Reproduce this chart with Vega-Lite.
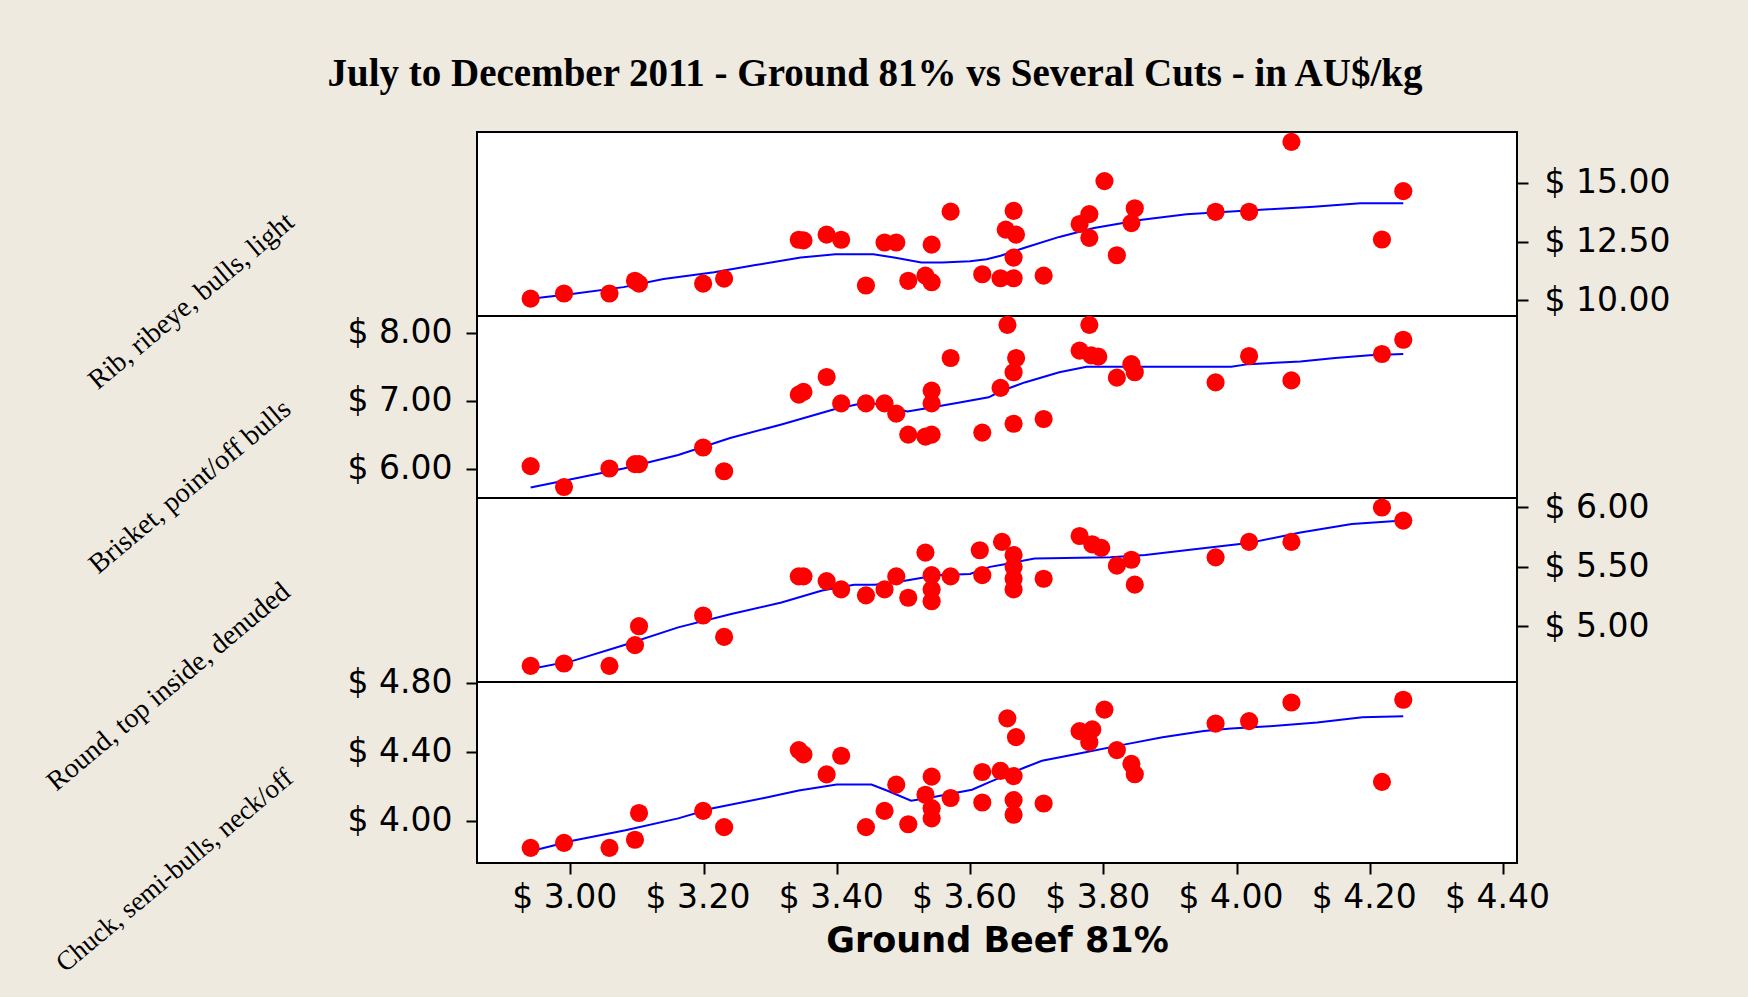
{
  "$schema": "https://vega.github.io/schema/vega-lite/v6.json",
  "background": "#EEEAE0",
  "padding": {"left": 40, "top": 55, "right": 78, "bottom": 39},
  "title": {"text": "July to December 2011 - Ground 81% vs Several Cuts - in AU$/kg", "font": "Liberation Serif", "fontSize": 39, "fontWeight": "bold", "color": "#000000", "anchor": "middle", "frame": "group", "offset": 37, "dx": -122},
  "spacing": 0,
  "bounds": "flush",
  "datasets": {
    "p1": [
      {"x": 2.9405, "y": 10.07}, {"x": 2.9906, "y": 10.29}, {"x": 3.0588, "y": 10.29}, {"x": 3.0971, "y": 10.83}, {"x": 3.1032, "y": 10.71},
      {"x": 3.1994, "y": 10.71}, {"x": 3.2309, "y": 10.92}, {"x": 3.3430, "y": 12.58}, {"x": 3.3500, "y": 12.55}, {"x": 3.3848, "y": 12.80},
      {"x": 3.4066, "y": 12.58}, {"x": 3.4438, "y": 10.63}, {"x": 3.4717, "y": 12.46}, {"x": 3.4893, "y": 12.46}, {"x": 3.5073, "y": 10.83},
      {"x": 3.5331, "y": 11.05}, {"x": 3.5424, "y": 10.77}, {"x": 3.5424, "y": 12.37}, {"x": 3.5709, "y": 13.78}, {"x": 3.6184, "y": 11.11},
      {"x": 3.6458, "y": 10.94}, {"x": 3.6654, "y": 10.94}, {"x": 3.6536, "y": 13.01}, {"x": 3.6690, "y": 12.80}, {"x": 3.6654, "y": 13.81},
      {"x": 3.6654, "y": 11.82}, {"x": 3.7105, "y": 11.05}, {"x": 3.7645, "y": 13.25}, {"x": 3.7791, "y": 13.67}, {"x": 3.7791, "y": 12.66},
      {"x": 3.8018, "y": 15.08}, {"x": 3.8204, "y": 11.92}, {"x": 3.8473, "y": 13.92}, {"x": 3.8422, "y": 13.29}, {"x": 3.9686, "y": 13.77},
      {"x": 4.0189, "y": 13.77}, {"x": 4.0824, "y": 16.75}, {"x": 4.2183, "y": 12.59}, {"x": 4.2503, "y": 14.65}
    ],
    "p2": [
      {"x": 2.9405, "y": 6.035}, {"x": 2.9906, "y": 5.727}, {"x": 3.0588, "y": 6.0}, {"x": 3.0971, "y": 6.065}, {"x": 3.1032, "y": 6.065},
      {"x": 3.1994, "y": 6.31}, {"x": 3.2309, "y": 5.96}, {"x": 3.3430, "y": 7.09}, {"x": 3.3500, "y": 7.13}, {"x": 3.3848, "y": 7.35},
      {"x": 3.4066, "y": 6.96}, {"x": 3.4438, "y": 6.96}, {"x": 3.4717, "y": 6.96}, {"x": 3.4893, "y": 6.81}, {"x": 3.5073, "y": 6.50},
      {"x": 3.5331, "y": 6.47}, {"x": 3.5424, "y": 6.50}, {"x": 3.5424, "y": 7.15}, {"x": 3.5424, "y": 6.96}, {"x": 3.5709, "y": 7.63},
      {"x": 3.6184, "y": 6.53}, {"x": 3.6458, "y": 7.19}, {"x": 3.6562, "y": 8.12}, {"x": 3.6654, "y": 7.42}, {"x": 3.6692, "y": 7.63},
      {"x": 3.6654, "y": 6.66}, {"x": 3.7105, "y": 6.73}, {"x": 3.7645, "y": 7.74}, {"x": 3.7820, "y": 7.67}, {"x": 3.7925, "y": 7.65},
      {"x": 3.7791, "y": 8.12}, {"x": 3.8204, "y": 7.34}, {"x": 3.8422, "y": 7.54}, {"x": 3.8473, "y": 7.42}, {"x": 3.9686, "y": 7.27},
      {"x": 4.0189, "y": 7.66}, {"x": 4.0824, "y": 7.30}, {"x": 4.2183, "y": 7.69}, {"x": 4.2503, "y": 7.90}
    ],
    "p3": [
      {"x": 2.9405, "y": 4.666}, {"x": 2.9906, "y": 4.686}, {"x": 3.0588, "y": 4.666}, {"x": 3.0971, "y": 4.84}, {"x": 3.1032, "y": 5.0},
      {"x": 3.1994, "y": 5.09}, {"x": 3.2309, "y": 4.91}, {"x": 3.3430, "y": 5.42}, {"x": 3.3500, "y": 5.42}, {"x": 3.3848, "y": 5.38},
      {"x": 3.4066, "y": 5.31}, {"x": 3.4438, "y": 5.26}, {"x": 3.4717, "y": 5.31}, {"x": 3.4893, "y": 5.42}, {"x": 3.5073, "y": 5.24},
      {"x": 3.5331, "y": 5.62}, {"x": 3.5424, "y": 5.43}, {"x": 3.5424, "y": 5.31}, {"x": 3.5424, "y": 5.21}, {"x": 3.5709, "y": 5.42},
      {"x": 3.6184, "y": 5.43}, {"x": 3.6147, "y": 5.64}, {"x": 3.6480, "y": 5.71}, {"x": 3.6654, "y": 5.60}, {"x": 3.6654, "y": 5.50},
      {"x": 3.6654, "y": 5.40}, {"x": 3.6654, "y": 5.31}, {"x": 3.7105, "y": 5.40}, {"x": 3.7645, "y": 5.76}, {"x": 3.7835, "y": 5.69},
      {"x": 3.7970, "y": 5.66}, {"x": 3.8204, "y": 5.51}, {"x": 3.8422, "y": 5.56}, {"x": 3.8473, "y": 5.35}, {"x": 3.9686, "y": 5.58},
      {"x": 4.0189, "y": 5.71}, {"x": 4.0824, "y": 5.71}, {"x": 4.2183, "y": 6.0}, {"x": 4.2503, "y": 5.89}
    ],
    "p4": [
      {"x": 2.9405, "y": 3.843}, {"x": 2.9906, "y": 3.872}, {"x": 3.0588, "y": 3.843}, {"x": 3.0971, "y": 3.890}, {"x": 3.1032, "y": 4.045},
      {"x": 3.1994, "y": 4.057}, {"x": 3.2309, "y": 3.963}, {"x": 3.3430, "y": 4.41}, {"x": 3.3500, "y": 4.385}, {"x": 3.3848, "y": 4.269},
      {"x": 3.4066, "y": 4.377}, {"x": 3.4438, "y": 3.963}, {"x": 3.4717, "y": 4.057}, {"x": 3.4893, "y": 4.21}, {"x": 3.5073, "y": 3.98},
      {"x": 3.5331, "y": 4.151}, {"x": 3.5424, "y": 4.256}, {"x": 3.5424, "y": 4.073}, {"x": 3.5424, "y": 4.014}, {"x": 3.5709, "y": 4.132},
      {"x": 3.6184, "y": 4.106}, {"x": 3.6184, "y": 4.283}, {"x": 3.6458, "y": 4.289}, {"x": 3.6654, "y": 4.259}, {"x": 3.6560, "y": 4.594},
      {"x": 3.6690, "y": 4.485}, {"x": 3.6654, "y": 4.12}, {"x": 3.6654, "y": 4.035}, {"x": 3.7105, "y": 4.10}, {"x": 3.7645, "y": 4.52},
      {"x": 3.7835, "y": 4.53}, {"x": 3.7790, "y": 4.456}, {"x": 3.8018, "y": 4.645}, {"x": 3.8204, "y": 4.41}, {"x": 3.8422, "y": 4.33},
      {"x": 3.8473, "y": 4.27}, {"x": 3.9686, "y": 4.564}, {"x": 4.0189, "y": 4.578}, {"x": 4.0824, "y": 4.686}, {"x": 4.2183, "y": 4.226},
      {"x": 4.2503, "y": 4.702}
    ],
    "l1": [
      {"x": 2.9405, "y": 10.07}, {"x": 3.005, "y": 10.28}, {"x": 3.08, "y": 10.56}, {"x": 3.14, "y": 10.91}, {"x": 3.216, "y": 11.19},
      {"x": 3.278, "y": 11.5}, {"x": 3.346, "y": 11.82}, {"x": 3.398, "y": 11.96}, {"x": 3.455, "y": 11.96}, {"x": 3.486, "y": 11.82},
      {"x": 3.527, "y": 11.61}, {"x": 3.558, "y": 11.61}, {"x": 3.60, "y": 11.66}, {"x": 3.625, "y": 11.75}, {"x": 3.646, "y": 11.9},
      {"x": 3.682, "y": 12.24}, {"x": 3.734, "y": 12.70}, {"x": 3.786, "y": 13.08}, {"x": 3.858, "y": 13.43}, {"x": 3.925, "y": 13.67},
      {"x": 3.992, "y": 13.78}, {"x": 4.049, "y": 13.88}, {"x": 4.116, "y": 13.99}, {"x": 4.186, "y": 14.13}, {"x": 4.2503, "y": 14.13}
    ],
    "l2": [
      {"x": 2.9405, "y": 5.72}, {"x": 3.005, "y": 5.85}, {"x": 3.08, "y": 6.0}, {"x": 3.162, "y": 6.2}, {"x": 3.24, "y": 6.45},
      {"x": 3.317, "y": 6.65}, {"x": 3.395, "y": 6.87}, {"x": 3.447, "y": 6.98}, {"x": 3.506, "y": 6.84}, {"x": 3.535, "y": 6.89},
      {"x": 3.576, "y": 6.96}, {"x": 3.628, "y": 7.05}, {"x": 3.646, "y": 7.14}, {"x": 3.682, "y": 7.27}, {"x": 3.734, "y": 7.42},
      {"x": 3.775, "y": 7.50}, {"x": 3.858, "y": 7.50}, {"x": 3.992, "y": 7.50}, {"x": 4.018, "y": 7.54}, {"x": 4.096, "y": 7.58},
      {"x": 4.148, "y": 7.63}, {"x": 4.2, "y": 7.67}, {"x": 4.2503, "y": 7.69}
    ],
    "l3": [
      {"x": 2.9405, "y": 4.64}, {"x": 3.005, "y": 4.71}, {"x": 3.08, "y": 4.84}, {"x": 3.162, "y": 4.99}, {"x": 3.24, "y": 5.10},
      {"x": 3.317, "y": 5.2}, {"x": 3.378, "y": 5.30}, {"x": 3.426, "y": 5.35}, {"x": 3.457, "y": 5.35}, {"x": 3.5, "y": 5.38},
      {"x": 3.55, "y": 5.43}, {"x": 3.60, "y": 5.44}, {"x": 3.63, "y": 5.50}, {"x": 3.65, "y": 5.52}, {"x": 3.697, "y": 5.57},
      {"x": 3.811, "y": 5.58}, {"x": 3.863, "y": 5.60}, {"x": 3.94, "y": 5.65}, {"x": 4.018, "y": 5.70}, {"x": 4.096, "y": 5.79},
      {"x": 4.173, "y": 5.86}, {"x": 4.2503, "y": 5.89}
    ],
    "l4": [
      {"x": 2.9405, "y": 3.823}, {"x": 3.005, "y": 3.886}, {"x": 3.083, "y": 3.945}, {"x": 3.162, "y": 4.014}, {"x": 3.214, "y": 4.073},
      {"x": 3.291, "y": 4.132}, {"x": 3.343, "y": 4.175}, {"x": 3.4, "y": 4.21}, {"x": 3.452, "y": 4.21}, {"x": 3.478, "y": 4.171},
      {"x": 3.5115, "y": 4.116}, {"x": 3.5374, "y": 4.132}, {"x": 3.603, "y": 4.18}, {"x": 3.63, "y": 4.226}, {"x": 3.682, "y": 4.309},
      {"x": 3.708, "y": 4.348}, {"x": 3.760, "y": 4.387}, {"x": 3.837, "y": 4.446}, {"x": 3.889, "y": 4.485}, {"x": 3.951, "y": 4.521},
      {"x": 3.992, "y": 4.535}, {"x": 4.049, "y": 4.548}, {"x": 4.121, "y": 4.570}, {"x": 4.189, "y": 4.6}, {"x": 4.2503, "y": 4.607}
    ]
  },
  "vconcat": [
    {
      "width": 1040, "height": 184,
      "layer": [
        {
          "data": {"name": "l1"},
          "mark": {"type": "line", "color": "#0000FF", "strokeWidth": 2},
          "encoding": {
            "x": {"field": "x", "type": "quantitative", "scale": {"domain": [2.86, 4.421], "nice": false, "zero": false}, "axis": null},
            "y": {"field": "y", "type": "quantitative", "scale": {"domain": [9.33, 17.17], "nice": false, "zero": false},
                  "axis": {"orient": "left", "labels": false, "ticks": false, "domain": false, "grid": false,
                           "title": "Rib, ribeye, bulls, light", "titleAngle": 320, "titleAlign": "right", "titleBaseline": "middle",
                           "titleX": -187, "titleY": 86, "titleFont": "Liberation Serif", "titleFontSize": 28, "titleFontWeight": "normal", "titleColor": "#000000"}}
          }
        },
        {
          "data": {"name": "p1"},
          "mark": {"type": "circle", "color": "#FF0000", "opacity": 1, "size": 330},
          "encoding": {
            "x": {"field": "x", "type": "quantitative", "axis": null},
            "y": {"field": "y", "type": "quantitative",
                  "axis": {"orient": "right", "values": [10, 12.5, 15], "title": null, "labelPadding": 16, "labelExpr": "'$ ' + format(datum.value, '.2f')"}}
          }
        }
      ],
      "resolve": {"axis": {"y": "independent"}}
    },
    {
      "width": 1040, "height": 182,
      "layer": [
        {
          "data": {"name": "l2"},
          "mark": {"type": "line", "color": "#0000FF", "strokeWidth": 2},
          "encoding": {
            "x": {"field": "x", "type": "quantitative", "scale": {"domain": [2.86, 4.421], "nice": false, "zero": false}, "axis": null},
            "y": {"field": "y", "type": "quantitative", "scale": {"domain": [5.565, 8.25], "nice": false, "zero": false},
                  "axis": {"orient": "left", "values": [6, 7, 8], "labelExpr": "'$ ' + format(datum.value, '.2f')",
                           "title": "Brisket, point/off bulls", "titleAngle": 320, "titleAlign": "right", "titleBaseline": "middle",
                           "titleX": -190, "titleY": 89, "titleFont": "Liberation Serif", "titleFontSize": 28, "titleFontWeight": "normal", "titleColor": "#000000"}}
          }
        },
        {
          "data": {"name": "p2"},
          "mark": {"type": "circle", "color": "#FF0000", "opacity": 1, "size": 330},
          "encoding": {
            "x": {"field": "x", "type": "quantitative", "axis": null},
            "y": {"field": "y", "type": "quantitative",
                  "axis": {"orient": "left", "values": [6, 7, 8], "labelExpr": "'$ ' + format(datum.value, '.2f')",
                           "title": "Brisket, point/off bulls", "titleAngle": 320, "titleAlign": "right", "titleBaseline": "middle",
                           "titleX": -190, "titleY": 89, "titleFont": "Liberation Serif", "titleFontSize": 28, "titleFontWeight": "normal", "titleColor": "#000000"}}
          }
        }
      ]
    },
    {
      "width": 1040, "height": 184,
      "layer": [
        {
          "data": {"name": "l3"},
          "mark": {"type": "line", "color": "#0000FF", "strokeWidth": 2},
          "encoding": {
            "x": {"field": "x", "type": "quantitative", "scale": {"domain": [2.86, 4.421], "nice": false, "zero": false}, "axis": null},
            "y": {"field": "y", "type": "quantitative", "scale": {"domain": [4.53, 6.08], "nice": false, "zero": false},
                  "axis": {"orient": "left", "labels": false, "ticks": false, "domain": false, "grid": false,
                           "title": "Round, top inside, denuded", "titleAngle": 320, "titleAlign": "right", "titleBaseline": "middle",
                           "titleX": -191, "titleY": 90, "titleFont": "Liberation Serif", "titleFontSize": 28, "titleFontWeight": "normal", "titleColor": "#000000"}}
          }
        },
        {
          "data": {"name": "p3"},
          "mark": {"type": "circle", "color": "#FF0000", "opacity": 1, "size": 330},
          "encoding": {
            "x": {"field": "x", "type": "quantitative", "axis": null},
            "y": {"field": "y", "type": "quantitative",
                  "axis": {"orient": "right", "values": [5, 5.5, 6], "title": null, "labelPadding": 16, "labelExpr": "'$ ' + format(datum.value, '.2f')"}}
          }
        }
      ],
      "resolve": {"axis": {"y": "independent"}}
    },
    {
      "width": 1040, "height": 181,
      "layer": [
        {
          "data": {"name": "l4"},
          "mark": {"type": "line", "color": "#0000FF", "strokeWidth": 2},
          "encoding": {
            "x": {"field": "x", "type": "quantitative", "scale": {"domain": [2.86, 4.421], "nice": false, "zero": false},
                  "axis": {"values": [3.0, 3.2, 3.4, 3.6, 3.8, 4.0, 4.2, 4.4], "labelExpr": "'$ ' + format(datum.value, '.2f')", "labelPadding": 7, "labelOffset": -6,
                           "title": "Ground Beef 81%", "titleFont": "DejaVu Sans", "titleFontSize": 35, "titleFontWeight": "bold", "titlePadding": 9, "titleColor": "#000000"}},
            "y": {"field": "y", "type": "quantitative", "scale": {"domain": [3.755, 4.805], "nice": false, "zero": false},
                  "axis": {"orient": "left", "values": [4.0, 4.4, 4.8], "labelExpr": "'$ ' + format(datum.value, '.2f')",
                           "title": "Chuck, semi-bulls, neck/off", "titleAngle": 320, "titleAlign": "right", "titleBaseline": "middle",
                           "titleX": -188, "titleY": 92, "titleFont": "Liberation Serif", "titleFontSize": 27, "titleFontWeight": "normal", "titleColor": "#000000"}}
          }
        },
        {
          "data": {"name": "p4"},
          "mark": {"type": "circle", "color": "#FF0000", "opacity": 1, "size": 330},
          "encoding": {
            "x": {"field": "x", "type": "quantitative",
                  "axis": {"values": [3.0, 3.2, 3.4, 3.6, 3.8, 4.0, 4.2, 4.4], "labelExpr": "'$ ' + format(datum.value, '.2f')", "labelPadding": 7, "labelOffset": -6,
                           "title": "Ground Beef 81%", "titleFont": "DejaVu Sans", "titleFontSize": 35, "titleFontWeight": "bold", "titlePadding": 9, "titleColor": "#000000"}},
            "y": {"field": "y", "type": "quantitative",
                  "axis": {"orient": "left", "values": [4.0, 4.4, 4.8], "labelExpr": "'$ ' + format(datum.value, '.2f')",
                           "title": "Chuck, semi-bulls, neck/off", "titleAngle": 320, "titleAlign": "right", "titleBaseline": "middle",
                           "titleX": -188, "titleY": 92, "titleFont": "Liberation Serif", "titleFontSize": 27, "titleFontWeight": "normal", "titleColor": "#000000"}}
          }
        }
      ]
    }
  ],
  "config": {
    "view": {"stroke": "#000000", "strokeWidth": 2, "fill": "#FFFFFF"},
    "axis": {
      "labelFont": "DejaVu Sans", "labelFontSize": 33, "labelColor": "#000000",
      "tickColor": "#000000", "tickSize": 11, "tickWidth": 2, "domain": false, "grid": false,
      "labelPadding": 14, "labelFlush": false, "labelOverlap": false, "labelBound": false
    }
  }
}
